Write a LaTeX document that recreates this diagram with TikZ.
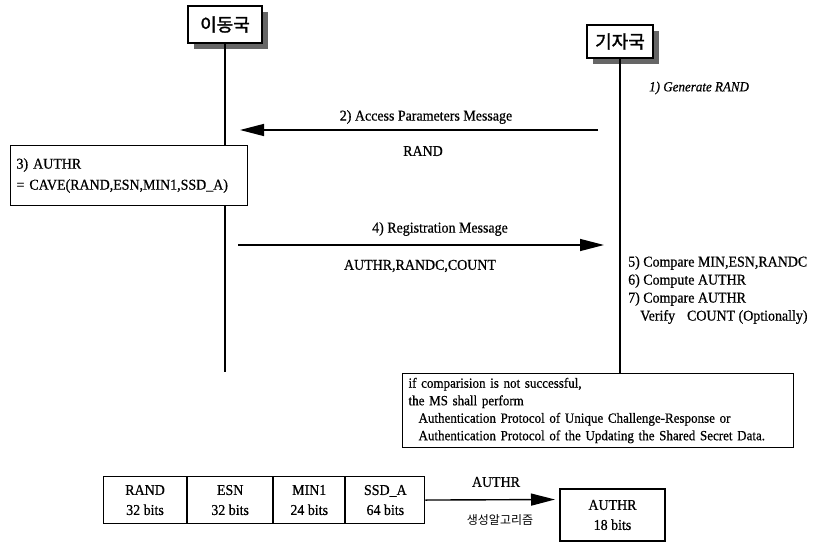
\documentclass[tikz,border=0pt]{standalone}
\usepackage{fontspec}
\setmainfont{Liberation Serif}[FakeStretch=0.93, FakeBold=0.6]
\newfontfamily\krfont{Noto Sans CJK KR}
\newfontfamily\krheavy{Noto Sans CJK KR}[FakeBold=1.5]
\usetikzlibrary{arrows.meta,shadows}

\begin{document}
\begin{tikzpicture}[x=1pt,y=-1pt,
  every node/.style={font=\fontsize{15}{18}\selectfont, inner sep=0pt},
  station/.style={draw, line width=1.1pt, fill=white,
    font=\krheavy\fontsize{18}{20}\selectfont,
    drop shadow={shadow xshift=6pt, shadow yshift=-6pt, fill=black!60, opacity=1}},
  life/.style={line width=1.1pt},
  msg/.style={line width=1.4pt, -{Triangle[length=24pt,width=12pt]}},
  panel/.style={draw, line width=1.1pt, fill=white, align=left, anchor=north west,
    inner xsep=6pt, inner ysep=3pt},
  cell/.style={draw, line width=1.1pt, align=center, anchor=north west,
    minimum height=47pt, inner sep=0pt}
]
\useasboundingbox (0,0) rectangle (829,543);

% stations
\node[station, minimum width=74pt, minimum height=37pt] (ms) at (225,24.5) {이동국};
\node[station, minimum width=66pt, minimum height=33pt] (bs) at (620,41.5) {기자국};

% note box at the end of the base station line
\node[panel, text width=379pt, minimum height=74pt, font=\fontsize{14}{17.5}\selectfont] (note) at (402,373) {%
if comparision is not successful,\\
the MS shall perform\\
\hspace*{10pt}Authentication Protocol of Unique Challenge-Response or\\
\hspace*{10pt}Authentication Protocol of the Updating the Shared Secret Data.};

% lifelines
\coordinate (msEnd) at (225,372);
\draw[life] (ms.south) -- (msEnd);
\draw[life] (bs.south) -- (note.north -| bs.south);

% step 1
\node[anchor=west, font=\itshape\fontsize{14}{18}\selectfont] (s1) at (649,88) {1) Generate RAND};

% message 2
\coordinate (m2s) at (598,130);
\coordinate (m2e) at (240,130);
\draw[msg] (m2s) -- (m2e);
\node (m2t) at (426,117) {2) Access Parameters Message};
\node (m2d) at (423,151) {RAND};

% step 3 on the mobile station
\node[panel, text width=225pt, minimum height=60pt, font=\fontsize{15}{21}\selectfont] (s3) at (10,145) {%
3) AUTHR\\
= CAVE(RAND,ESN,MIN1,SSD\_A)};

% message 4
\coordinate (m4s) at (238,245);
\coordinate (m4e) at (604,245);
\draw[msg] (m4s) -- (m4e);
\node (m4t) at (440,229) {4) Registration Message};
\node (m4d) at (420,266) {AUTHR,RANDC,COUNT};

% steps 5-7 on the base station
\node[anchor=north west, align=left] (s5) at (628,256) {%
5) Compare MIN,ESN,RANDC\\
6) Compute AUTHR\\
7) Compare AUTHR\\
\hspace*{12pt}Verify\hspace{12pt}COUNT (Optionally)};

% AUTHR generation inputs
\node[cell, minimum width=83pt] (c1) at (103,476) {RAND\\[2pt]32 bits};
\node[cell, minimum width=85pt] (c2) at (c1.north east) {ESN\\[2pt]32 bits};
\node[cell, minimum width=71pt] (c3) at (c2.north east) {MIN1\\[2pt]24 bits};
\node[cell, minimum width=79pt] (c4) at (c3.north east) {SSD\_A\\[2pt]64 bits};

\node[cell, anchor=center, minimum width=105pt, minimum height=52pt] (out) at (612.5,515) {AUTHR\\[2pt]18 bits};

\coordinate (gTip) at (555,499.5);
\draw[msg] (c4.east) -- (gTip);
\node (gTop) at (496,482) {AUTHR};
\node[font=\krfont\fontsize{12}{14}\selectfont] (gBot) at (500,520) {생성알고리즘};

\end{tikzpicture}
\end{document}
